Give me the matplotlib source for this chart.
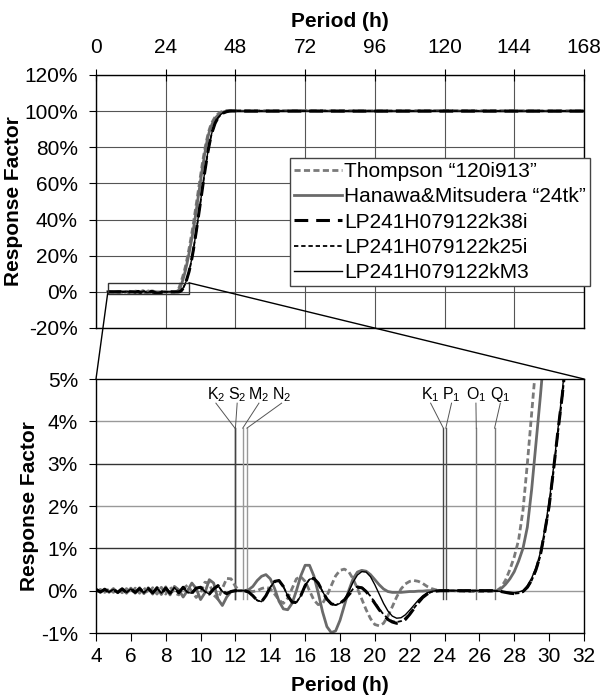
import numpy as np
import matplotlib
matplotlib.use('Agg')
import matplotlib.pyplot as plt
from matplotlib.patches import Rectangle, ConnectionPatch
from matplotlib.ticker import FuncFormatter

plt.rcParams['font.family'] = ['Liberation Sans', 'DejaVu Sans']
plt.rcParams['axes.unicode_minus'] = False
plt.rcParams['mathtext.fontset'] = 'custom'
plt.rcParams['mathtext.rm'] = 'Liberation Sans'
plt.rcParams['mathtext.default'] = 'regular'

# period grid (h): 0.25 h steps over the zoomed band, coarser afterwards
period_tail = [32.5, 33, 33.5, 34, 34.5, 35, 35.5, 36, 36.5, 37, 37.5, 38, 38.5,
               39, 39.5, 40, 41, 42, 43, 44, 45, 46, 47, 48,
               50, 54, 60, 72, 84, 96, 108, 120, 132, 144, 156, 168]
period = np.concatenate([np.arange(4, 32.01, 0.25), period_tail])

# response factor (%)
thompson = [
    -0.03, 0.03, -0.04, 0.04, -0.04, 0.05, -0.05, 0.05,
    -0.06, 0.06, -0.06, 0.07, -0.07, 0.07, -0.08, 0.08,
    -0.08, 0.09, -0.05, -0.10, 0.05, 0.13, -0.02, -0.16,
    -0.05, 0.20, 0.18, -0.10, -0.20, 0.05, 0.29, 0.28,
    0.10, 0.00, 0.00, -0.01, -0.02, 0.00, 0.05, 0.08,
    0.05, -0.08, -0.22, -0.30, -0.18, 0.05, 0.28, 0.33,
    0.22, 0.00, -0.22, -0.33, -0.30, -0.12, 0.12, 0.35,
    0.48, 0.51, 0.45, 0.28, 0.05, -0.20, -0.45, -0.66,
    -0.80, -0.83, -0.77, -0.60, -0.38, -0.15, 0.04, 0.16,
    0.22, 0.24, 0.22, 0.17, 0.10, 0.05, 0.02, 0.00,
    0.00, 0.00, 0.00, -0.01, -0.01, -0.02, -0.02, -0.02,
    -0.02, -0.02, -0.02, -0.01, 0.00, 0.08, 0.25, 0.50,
    0.80, 1.20, 1.90, 3.00, 4.20, 5.40, 6.60, 7.90,
    9.2, 10.6, 12.1, 13.8, 15.6, 17.5, 19.5, 21.5,
    23.6,
    28.0, 32.6, 37.6, 43.0, 48.5, 54.0, 59.5, 64.8, 69.8, 74.8, 79.3, 83.3,
    86.8, 89.8, 92.2, 94.0, 96.8, 98.5, 99.5, 100.0, 100.3, 100.4, 100.4, 100.3,
    100.3, 100.2, 100.2, 100.3, 100.2, 100.1, 100.2, 100.3, 100.2, 100.2, 100.1, 100.2]

hanawa = [
    0.03, -0.04, 0.04, -0.04, 0.05, -0.05, 0.05, -0.06,
    0.06, -0.06, 0.07, -0.07, 0.07, -0.08, 0.08, -0.09,
    0.09, -0.10, 0.10, 0.02, -0.15, 0.00, 0.18, 0.05,
    -0.21, -0.05, 0.26, 0.18, -0.20, -0.35, -0.15, -0.02,
    0.00, 0.00, 0.00, 0.02, 0.10, 0.24, 0.34, 0.38,
    0.28, 0.05, -0.25, -0.43, -0.45, -0.30, 0.00, 0.35,
    0.60, 0.60, 0.35, -0.05, -0.50, -0.85, -0.99, -0.95,
    -0.70, -0.35, 0.00, 0.28, 0.44, 0.48, 0.46, 0.38,
    0.26, 0.14, 0.04, -0.02, -0.04, -0.04, -0.04, -0.03,
    -0.02, -0.02, -0.01, -0.01, 0.00, 0.00, 0.00, 0.00,
    0.00, 0.00, 0.00, 0.00, 0.00, 0.00, 0.00, 0.00,
    0.00, 0.00, 0.00, 0.00, 0.00, 0.05, 0.15, 0.28,
    0.45, 0.70, 1.00, 1.50, 2.40, 3.50, 4.60, 5.80,
    7.1, 8.5, 10.0, 11.6, 13.3, 15.1, 17.0, 19.0,
    21.0,
    25.3, 29.6, 34.3, 39.4, 45.0, 50.6, 56.0, 61.6, 67.0, 72.0, 77.0, 81.5,
    85.5, 88.5, 91.0, 93.0, 96.0, 97.8, 99.0, 99.6, 100.0, 100.1, 100.1, 100.0,
    100.0, 100.0, 100.0, 100.1, 100.0, 100.0, 100.0, 100.1, 100.0, 100.0, 100.0, 100.0]

k38i = [
    0.03, -0.03, 0.03, -0.03, 0.03, -0.04, 0.04, -0.04,
    0.04, -0.04, 0.05, -0.05, 0.05, -0.05, 0.06, -0.06,
    0.06, -0.06, 0.07, -0.05, 0.08, -0.04, -0.06, 0.06,
    0.08, -0.02, -0.08, 0.04, 0.12, -0.02, -0.07, -0.02,
    0.00, 0.00, 0.00, -0.03, -0.12, -0.23, -0.26, -0.12,
    0.08, 0.22, 0.24, 0.10, -0.12, -0.27, -0.28, -0.12,
    0.12, 0.27, 0.29, 0.18, -0.02, -0.20, -0.31, -0.34,
    -0.30, -0.22, -0.10, 0.02, 0.08, 0.07, -0.02, -0.15,
    -0.30, -0.45, -0.58, -0.68, -0.74, -0.77, -0.75, -0.68,
    -0.56, -0.42, -0.28, -0.16, -0.08, -0.03, -0.01, 0.00,
    0.00, 0.00, 0.00, 0.00, 0.00, 0.00, 0.00, 0.00,
    0.00, 0.00, 0.00, 0.00, -0.01, -0.02, -0.04, -0.06,
    -0.07, -0.06, -0.02, 0.08, 0.25, 0.50, 0.85, 1.40,
    2.00, 2.85, 3.75, 4.60, 5.60, 6.90, 8.20, 9.60,
    11.0,
    14.5, 18.5, 23.0, 28.0, 33.3, 38.8, 44.3, 50.0, 55.8, 61.5, 67.0, 72.3,
    77.2, 81.5, 85.3, 88.5, 93.3, 96.3, 98.1, 99.1, 99.7, 100.0, 100.1, 100.1,
    100.0, 100.0, 100.0, 100.0, 100.0, 100.0, 100.0, 100.0, 100.0, 100.0, 100.0, 100.0]

k25i = [
    0.03, -0.03, 0.03, -0.03, 0.03, -0.04, 0.04, -0.04,
    0.04, -0.04, 0.05, -0.05, 0.05, -0.05, 0.06, -0.06,
    0.06, -0.06, 0.07, -0.05, 0.08, -0.04, -0.06, 0.06,
    0.08, -0.02, -0.08, 0.04, 0.12, -0.02, -0.07, -0.02,
    0.00, 0.00, 0.00, -0.03, -0.12, -0.23, -0.26, -0.12,
    0.08, 0.22, 0.24, 0.10, -0.12, -0.27, -0.28, -0.12,
    0.12, 0.27, 0.29, 0.18, -0.02, -0.20, -0.31, -0.34,
    -0.30, -0.21, -0.08, 0.04, 0.10, 0.08, -0.01, -0.13,
    -0.28, -0.43, -0.56, -0.66, -0.72, -0.74, -0.72, -0.65,
    -0.54, -0.41, -0.28, -0.16, -0.08, -0.03, -0.01, 0.00,
    0.00, 0.00, 0.00, 0.00, 0.00, 0.00, 0.00, 0.00,
    0.00, 0.00, 0.00, 0.00, -0.01, -0.02, -0.04, -0.06,
    -0.07, -0.06, -0.02, 0.07, 0.24, 0.48, 0.82, 1.35,
    1.95, 2.80, 3.70, 4.55, 5.55, 6.85, 8.15, 9.55,
    10.9,
    14.4, 18.4, 22.9, 27.9, 33.2, 38.7, 44.2, 49.9, 55.7, 61.4, 66.9, 72.2,
    77.1, 81.4, 85.2, 88.4, 93.2, 96.2, 98.0, 99.0, 99.7, 100.0, 100.1, 100.1,
    100.0, 100.0, 100.0, 100.0, 100.0, 100.0, 100.0, 100.0, 100.0, 100.0, 100.0, 100.0]

km3 = [
    0.03, -0.03, 0.03, -0.03, 0.03, -0.04, 0.04, -0.04,
    0.04, -0.04, 0.05, -0.05, 0.05, -0.05, 0.06, -0.06,
    0.06, -0.06, 0.07, -0.05, 0.08, -0.04, -0.06, 0.06,
    0.08, -0.02, -0.08, 0.04, 0.12, -0.02, -0.07, -0.02,
    0.00, 0.00, 0.00, -0.03, -0.12, -0.23, -0.26, -0.12,
    0.08, 0.22, 0.24, 0.10, -0.12, -0.27, -0.28, -0.12,
    0.12, 0.27, 0.29, 0.18, -0.02, -0.20, -0.31, -0.34,
    -0.30, -0.20, -0.02, 0.20, 0.37, 0.45, 0.44, 0.33,
    0.14, -0.08, -0.30, -0.48, -0.60, -0.65, -0.64, -0.57,
    -0.46, -0.34, -0.22, -0.12, -0.05, -0.02, 0.00, 0.00,
    0.00, 0.00, 0.00, 0.00, 0.00, 0.00, 0.00, 0.00,
    0.00, 0.00, 0.00, 0.00, -0.01, -0.02, -0.03, -0.04,
    -0.05, -0.03, 0.00, 0.12, 0.30, 0.55, 0.90, 1.45,
    2.10, 2.90, 3.80, 4.70, 5.70, 7.00, 8.30, 9.70,
    11.1,
    14.6, 18.6, 23.1, 28.1, 33.4, 38.9, 44.4, 50.1, 55.9, 61.6, 67.1, 72.4,
    77.3, 81.6, 85.4, 88.6, 93.4, 96.4, 98.2, 99.2, 99.8, 100.0, 100.1, 100.1,
    100.0, 100.0, 100.0, 100.0, 100.0, 100.0, 100.0, 100.0, 100.0, 100.0, 100.0, 100.0]

labels = ['Thompson \u201c120i913\u201d', 'Hanawa&Mitsudera \u201c24tk\u201d',
          'LP241H079122k38i', 'LP241H079122k25i', 'LP241H079122kM3']

# tidal constituents (h)
tide_names = ['K$_2$', 'S$_2$', 'M$_2$', 'N$_2$', 'K$_1$', 'P$_1$', 'O$_1$', 'Q$_1$']
tide_periods = [11.97, 12.00, 12.42, 12.66, 23.93, 24.07, 25.82, 26.87]

styles = [
    dict(color='#7a7a7a', lw=2.0, dashes=(2.2, 1.2)),
    dict(color='#6a6a6a', lw=2.0),
    dict(color='black', lw=2.2, dashes=(4.5, 2.6)),
    dict(color='black', lw=1.3, dashes=(2.4, 1.6)),
    dict(color='black', lw=1.0),
]
series = [thompson, hanawa, k38i, k25i, km3]

fig = plt.figure(figsize=(6, 6.98), dpi=100)
ax1 = fig.add_axes([0.16, 0.5301, 0.8133, 0.3625])
ax2 = fig.add_axes([0.16, 0.0931, 0.8133, 0.3639])

pct = FuncFormatter(lambda v, p: f'{v:.0f}%')

# ---- top panel
for s, st, lab in zip(series, styles, labels):
    ax1.plot(period, s, label=lab, **st)
ax1.set_xlim(0, 168)
ax1.set_ylim(-20, 120)
ax1.set_xticks(np.arange(0, 169, 24))
ax1.set_yticks(np.arange(-20, 121, 20))
ax1.yaxis.set_major_formatter(pct)
ax1.xaxis.tick_top()
ax1.xaxis.set_label_position('top')
ax1.grid(True, color='#555555', lw=0.8)
ax1.set_axisbelow(True)
ax1.tick_params(axis='x', direction='inout', length=8, labelsize=15, pad=9)
ax1.tick_params(axis='y', direction='out', length=5, labelsize=15, pad=8)
ax1.set_xlabel('Period (h)', fontsize=15, fontweight='bold', labelpad=8)
ax1.set_ylabel('Response Factor', fontsize=15, fontweight='bold', labelpad=1)
ax1.add_patch(Rectangle((4, -1), 28, 6, fill=False, ec='#333333', lw=1.0, zorder=5))

leg = ax1.legend(loc='upper right', bbox_to_anchor=(590 / 600, 1 - 158 / 698),
                 bbox_transform=fig.transFigure, fontsize=15, fancybox=False,
                 framealpha=1, edgecolor='#444444', handlelength=2.3,
                 handletextpad=0.1, borderpad=0.2, labelspacing=0.3,
                 borderaxespad=0)
leg.get_frame().set_linewidth(1.0)

# ---- bottom panel
for s, st in zip(series, styles):
    ax2.plot(period, s, **st)
ax2.set_xlim(4, 32)
ax2.set_ylim(-1, 5)
ax2.set_xticks(np.arange(4, 33, 2))
ax2.set_yticks(np.arange(-1, 6, 1))
ax2.yaxis.set_major_formatter(pct)
for v in range(0, 5):
    ax2.axhline(v, color='#999999' if v % 2 == 0 else '#333333', lw=1.0, zorder=0)
ax2.tick_params(axis='x', direction='out', length=6, labelsize=15, pad=4)
ax2.tick_params(axis='y', direction='out', length=5, labelsize=15, pad=8)
ax2.set_xlabel('Period (h)', fontsize=15, fontweight='bold', labelpad=7)
ax2.set_ylabel('Response Factor', fontsize=15, fontweight='bold', labelpad=1)

# tidal constituent markers with leader lines
label_x = [10.88, 12.1, 13.35, 14.65, 23.2, 24.4, 25.8, 27.2]
tide_colors = ['#444444', '#444444', '#999999', '#999999', '#444444', '#555555', '#777777', '#777777']
for name, tp, lx, c in zip(tide_names, tide_periods, label_x, tide_colors):
    ax2.plot([tp, tp], [-0.2, 3.84], color=c, lw=1.0, zorder=1)
    ax2.plot([lx, tp], [4.43, 3.84], color='#555555', lw=0.7, zorder=1)
    ax2.text(lx, 4.63, name, ha='center', va='center', fontsize=11.5)

for ax in (ax1, ax2):
    for sp in ax.spines.values():
        sp.set_color('black')
        sp.set_linewidth(1.0)

# zoom connectors
for xa, ya, xb, yb in [(4, -1, 4, 5), (32, 5, 32, 5)]:
    con = ConnectionPatch(xyA=(xa, ya), coordsA='data', axesA=ax1,
                          xyB=(xb, yb), coordsB='data', axesB=ax2,
                          color='black', lw=1.0)
    fig.add_artist(con)

fig.savefig('out.png', dpi=100)
